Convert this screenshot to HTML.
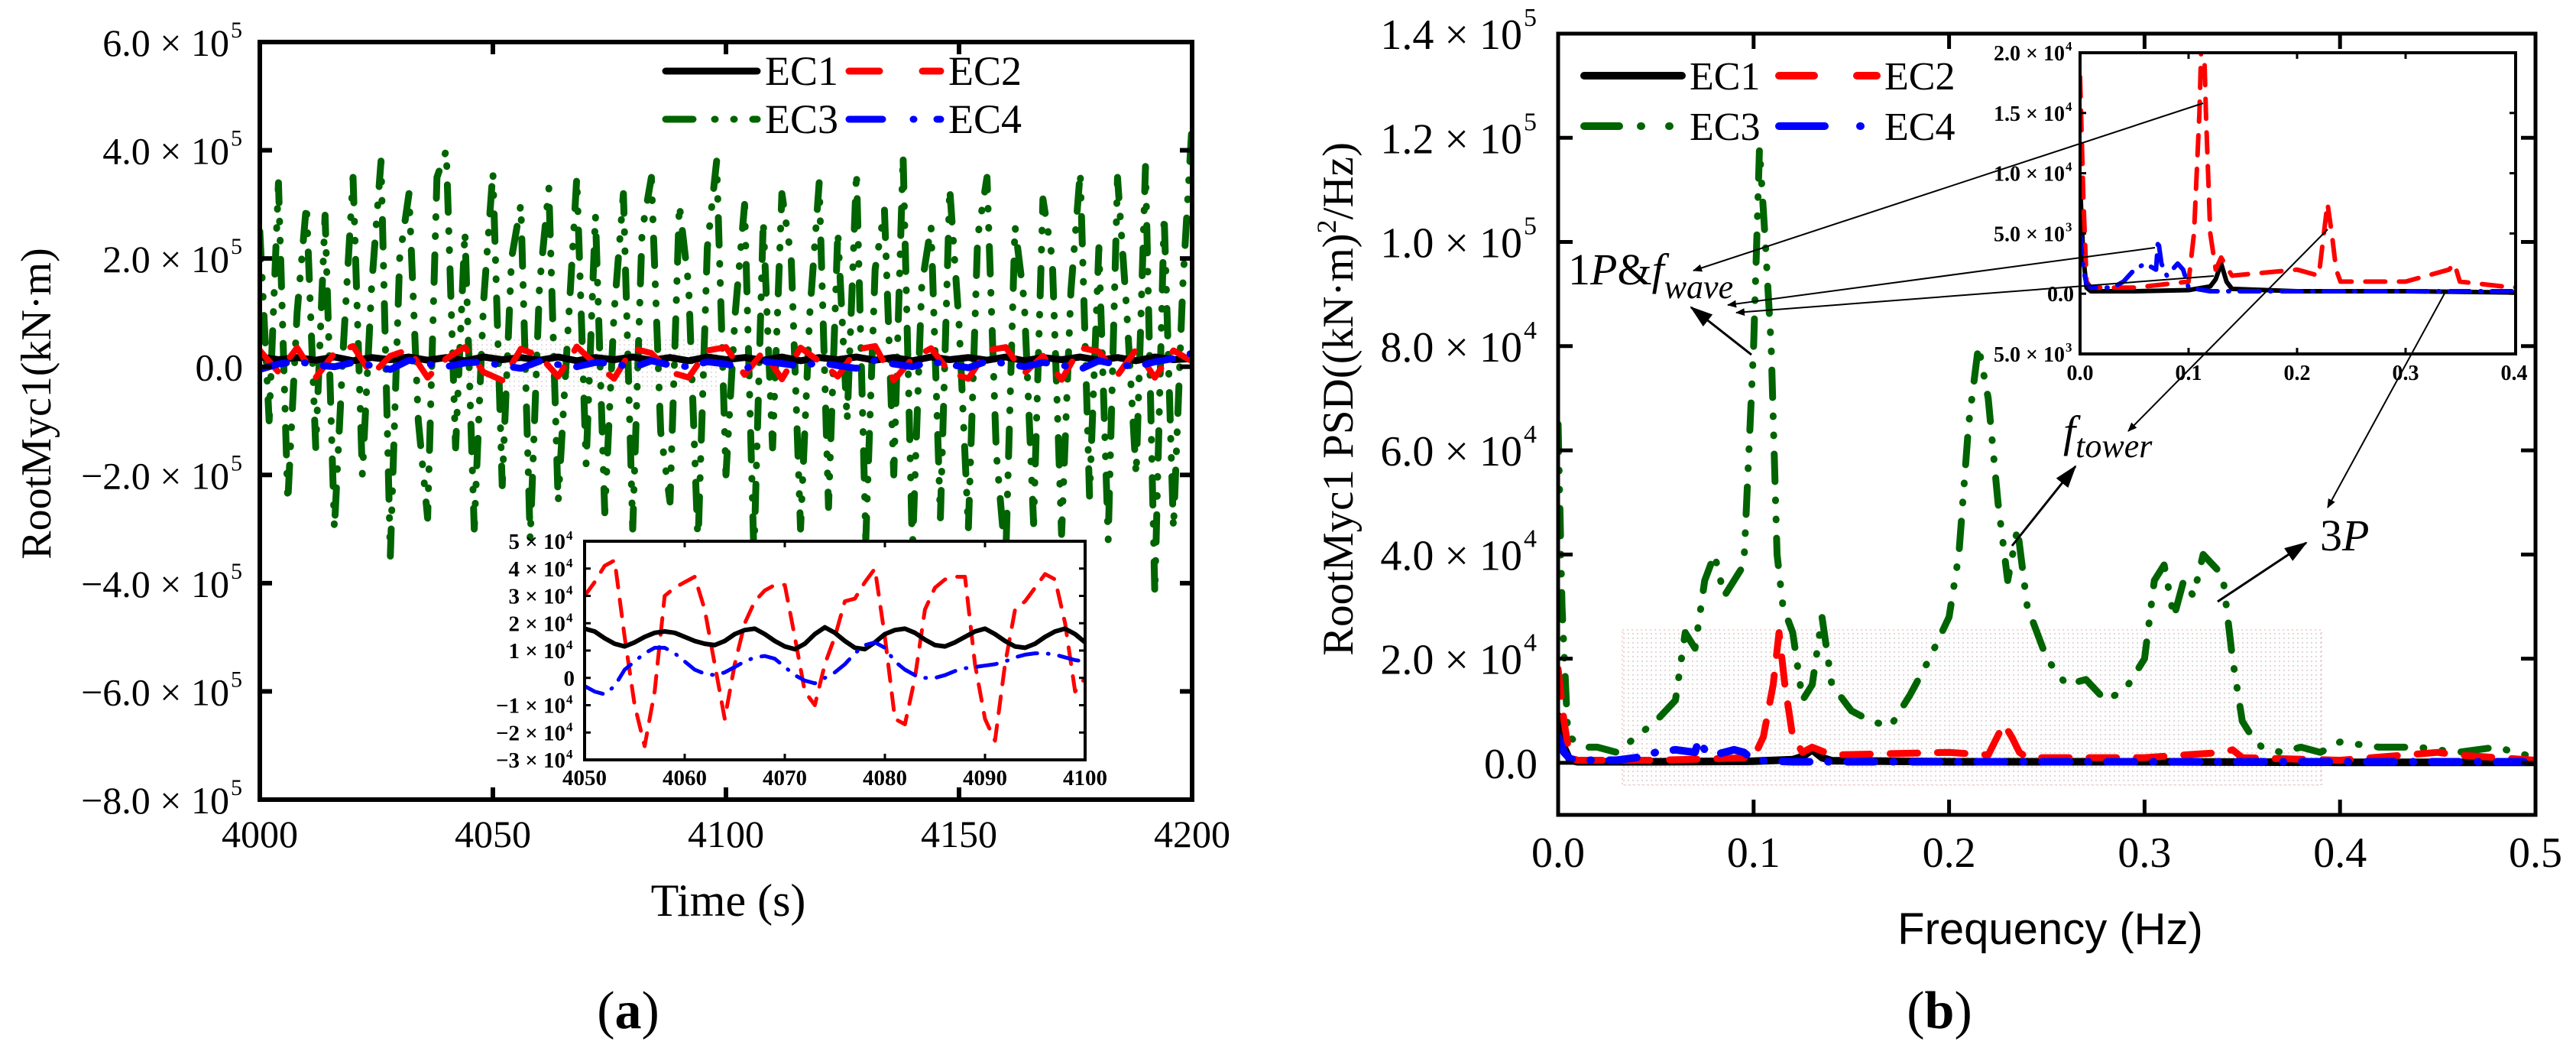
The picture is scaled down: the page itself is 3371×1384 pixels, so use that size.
<!DOCTYPE html>
<html><head><meta charset="utf-8"><style>
html,body{margin:0;padding:0;background:#fff;}
svg{display:block;}
text{font-family:"Liberation Serif","DejaVu Serif",serif;fill:#000;}
.sans{font-family:"Liberation Sans","DejaVu Sans",sans-serif;}
</style></head><body>
<svg id="fig" xmlns="http://www.w3.org/2000/svg" width="3371" height="1384" viewBox="0 0 3371 1384">
<defs>
<clipPath id="clipA"><rect x="340" y="55" width="1220" height="991"/></clipPath>
<clipPath id="clipAi"><rect x="765" y="708" width="655" height="286"/></clipPath>
<clipPath id="clipB"><rect x="2039" y="44" width="1279" height="1023"/></clipPath>
<clipPath id="clipBi"><rect x="2722" y="69" width="570" height="394"/></clipPath>
<pattern id="dots" width="6" height="6" patternUnits="userSpaceOnUse"><rect width="2" height="2" fill="#d8c8c8"/></pattern>
<marker id="ah" markerWidth="12" markerHeight="10" refX="11" refY="5" orient="auto" markerUnits="userSpaceOnUse"><path d="M0,0 L12,5 L0,10 z" fill="#000"/></marker>
<marker id="ahs" markerWidth="30" markerHeight="20" refX="28" refY="10" orient="auto" markerUnits="userSpaceOnUse"><path d="M0,0 L30,10 L0,20 z" fill="#000"/></marker>
</defs>
<g id="layer"></g>
</svg>
<script>
// ---------- data: panel (a) main, times 4000..4200 ----------
const mainStart = 4000, mainStep3 = 2, mainStep = 4;
const ec3Main = [2.5,-1,3.4,-2.5,1,3,-1.5,2.8,-3,0.5,3.5,-2,1.5,3.8,-3.5,2,3.2,-1,-2.8,3.5,4,-1.5,2.5,-3,1.2,3.6,-2.2,2,3,-3.2,1.5,3.3,-2.5,0.5,3.5,-1.8,2.8,-2.7,1,3.2,-3,2.5,3.5,-1.2,-2.5,3,1.5,-3.3,2.2,3.8,-2,1,3,-3.5,2.7,-1.5,3.2,2,-3,1,3.4,-2.6,2.5,-1,3.6,-3.2,1.8,2.9,-2,3.9,-3.4,1.5,2.6,-2.8,3.3,0.8,-3,2.4,3.5,-1.6,-3.6,2.6,1.2,-2.9,3.1,2,-3.1,1.4,3.6,-2.4,2.2,-3.2,3.5,1,-2,3.7,-4.2,2.8,-3,1.5,4.5]; // x1e5
const ec1Main = [1.8,1.3,1.7,1.2,1.8,1.1,1.7,1.3,1.8,1.2,1.7,1.1,1.8,1.3,1.7,1.2,1.8,1.1,1.7,1.3,1.8,1.2,1.7,1.1,1.8,1.3,1.7,1.2,1.8,1.1,1.7,1.3,1.8,1.2,1.7,1.1,1.8,1.3,1.7,1.2,1.8,1.1,1.7,1.3,1.8,1.2,1.7,1.1,1.8,1.3,1.5]; // x1e4
const ec2Main = [3,-1,3.5,-2,2.5,3.8,-1.5,2,3.2,-2,1.5,3.6,-1,-2.5,3.3,2,-1.8,3.7,0.5,-2.2,3.4,2.5,-1,-2,3,3.6,-1.5,2.8,-2.3,3.5,1,-1.8,3.2,3.8,-2.5,1.5,3.4,-1,-2.2,3,3.6,-1.2,2,-2.4,3.5,2.8,-1.6,3.2,-2,3,1]; // x1e4
const ec4Main = [-0.5,0.5,1,0.3,0,0.8,0.2,-0.5,1.2,0.5,0,0.7,0.9,0.2,-0.3,1,0.4,0,0.8,0.6,-0.2,1.1,0.3,0,0.9,0.5,-0.4,1,0.6,0.1,0.8,0.2,-0.3,1.2,0.5,0,0.9,0.4,-0.2,1,0.6,0,0.8,0.3,-0.5,1.1,0.4,0,0.9,1.5,2.5]; // x1e4
// ---------- panel (a) inset, times 4050..4100 step 1 ----------
const insStart = 4050, insStep = 1;
const ec1Ins = [1.8,1.7,1.45,1.25,1.15,1.3,1.5,1.65,1.7,1.65,1.5,1.35,1.25,1.2,1.35,1.6,1.75,1.8,1.6,1.35,1.15,1.05,1.25,1.6,1.85,1.65,1.35,1.1,1.05,1.3,1.6,1.75,1.8,1.65,1.4,1.2,1.15,1.3,1.5,1.7,1.8,1.6,1.35,1.15,1.1,1.25,1.5,1.7,1.8,1.6,1.3];
const ec2Ins = [3,3.5,4.1,4.3,1.5,-1,-2.5,-0.5,3,3.3,3.5,3.7,2.5,0.5,-1.5,0.5,2,2.8,3.2,3.4,3.4,1.5,-0.5,-1,0.5,1.5,2.8,2.9,3.5,4,1.5,-1.5,-1.7,0,2.5,3.3,3.6,3.7,3.7,0.5,-1.5,-2.3,0.5,2.5,2.8,3.3,3.8,3.6,2,-0.5,0];
const ec4Ins = [-0.3,-0.5,-0.6,-0.3,0.3,0.6,0.9,1.1,1.1,0.9,0.6,0.3,0.15,0.1,0.2,0.4,0.6,0.75,0.8,0.7,0.4,0.1,-0.1,-0.2,0,0.2,0.5,0.9,1.2,1.3,1.1,0.6,0.3,0.1,0,0,0.1,0.25,0.35,0.4,0.45,0.5,0.6,0.75,0.85,0.9,0.9,0.85,0.75,0.65,0.6];
// ---------- panel (b) PSD (x1e4) ----------
const f3 = [0,0.002,0.005,0.01,0.015,0.02,0.03,0.04,0.05,0.06,0.065,0.07,0.075,0.08,0.085,0.09,0.095,0.1,0.103,0.106,0.109,0.112,0.115,0.12,0.125,0.13,0.135,0.14,0.15,0.16,0.17,0.18,0.19,0.2,0.205,0.21,0.215,0.22,0.225,0.23,0.235,0.24,0.25,0.26,0.27,0.28,0.29,0.3,0.305,0.31,0.315,0.32,0.325,0.33,0.335,0.34,0.345,0.35,0.355,0.36,0.37,0.38,0.39,0.4,0.42,0.44,0.46,0.48,0.5];
const v3 = [6.5,3,0.5,0.4,0.3,0.3,0.2,0.5,0.8,1.2,2.5,2.2,3.5,4,3.2,3.5,3.8,8,11.8,10,8,4,3,2.5,1.2,1.5,2.8,1.5,1,0.8,0.7,1.3,2,2.8,4,6.5,8,7,5,3.5,4.5,3,2,1.5,1.6,1.2,1.4,2,3.5,3.8,2.8,3.5,3.2,4,3.8,3.6,2,0.8,0.5,0.3,0.2,0.3,0.2,0.4,0.3,0.3,0.2,0.3,0.1];
const f1 = [0,0.003,0.006,0.01,0.05,0.1,0.12,0.125,0.13,0.135,0.14,0.2,0.3,0.4,0.5];
const v1 = [0.9,0.3,0.05,0.02,0.02,0.03,0.06,0.12,0.25,0.1,0.04,0.02,0.02,0.01,0.01];
const f2 = [0,0.003,0.006,0.01,0.05,0.1,0.105,0.11,0.113,0.116,0.12,0.125,0.13,0.14,0.2,0.22,0.228,0.232,0.236,0.24,0.3,0.34,0.345,0.35,0.4,0.45,0.46,0.5];
const v2 = [1.8,0.8,0.1,0.05,0.05,0.1,0.5,1.5,2.5,1.5,0.5,0.2,0.3,0.15,0.2,0.15,0.75,0.5,0.2,0.1,0.1,0.2,0.25,0.1,0.05,0.2,0.15,0.05];
const f4 = [0,0.003,0.006,0.01,0.03,0.04,0.05,0.06,0.07,0.072,0.075,0.08,0.085,0.09,0.095,0.1,0.12,0.2,0.3,0.4,0.5];
const v4 = [0.5,0.2,0.08,0.05,0.05,0.1,0.2,0.25,0.2,0.45,0.25,0.15,0.2,0.25,0.2,0.05,0.02,0.02,0.02,0.02,0.02];
// tick labels
const aYTicks = [6,4,2,0,-2,-4,-6,-8];
const aXTicks = [4000,4050,4100,4150,4200];
const aiYTicks = [5,4,3,2,1,0,-1,-2,-3];
const aiXTicks = [4050,4060,4070,4080,4090,4100];
const bYTicks = [14,12,10,8,6,4,2,0];
const bXTicks = [0,0.1,0.2,0.3,0.4,0.5];
const biYTicks = [20,15,10,5,0,-5];
const biXTicks = [0,0.1,0.2,0.3,0.4];

const NS = "http://www.w3.org/2000/svg";
const layer = document.getElementById('layer');
function mk(tag, attrs, parent){ const e=document.createElementNS(NS,tag); for(const k in attrs) e.setAttribute(k,attrs[k]); (parent||layer).appendChild(e); return e; }
function lin(d0,d1,r0,r1){ return v => r0 + (v-d0)*(r1-r0)/(d1-d0); }

const ax = lin(4000,4200,340,1560), ay = lin(6e5,-8e5,55,1046);
const aix = lin(4050,4100,765,1420), aiy = lin(5e4,-3e4,708,994);
const bx = lin(0,0.5,2039,3318), by = lin(1.4e5,-1e4,44,1066);
const bix = lin(0,0.4,2722,3290), biy = lin(2e4,-5e3,69,463);

const styles = {
  ec1:{stroke:'#000', dash:'none'},
  ec2:{stroke:'#ff0000', dash:'36 26'},
  ec3:{stroke:'#006400', dash:'36 24 1 24 1 24'},
  ec4:{stroke:'#0000ff', dash:'36 24 1 24'}
};
function series(xs, ys, sx, sy, st, w, clip, g){
  let d='';
  for(let i=0;i<Math.min(xs.length,ys.length);i++){ d += (i?'L':'M')+sx(xs[i]).toFixed(1)+','+sy(ys[i]).toFixed(1); }
  return mk('path',{d:d,fill:'none',stroke:st.stroke,'stroke-width':w,'stroke-dasharray':st.dash,'stroke-linecap':'round','stroke-linejoin':'round','clip-path':'url(#'+clip+')'},g);
}
function times(start, step, n){ const t=[]; for(let i=0;i<n;i++) t.push(start+i*step); return t; }
function scaleArr(a,k){ return a.map(v=>v*k); }
function txt(x,y,s,size,anchor,extra,g){ const e=mk('text',Object.assign({x:x,y:y,'font-size':size,'text-anchor':anchor||'start'},extra||{}),g); e.innerHTML=s; return e; }

// ================= PANEL (a) =================
const gA = mk('g',{});


const hlA = mk('rect',{x:610,y:441,width:332,height:70,fill:'url(#dots)',opacity:0.6},gA);


let p;
p = series(times(mainStart,mainStep3,ec3Main.length), scaleArr(ec3Main,1e5), ax, ay, styles.ec3, 9, 'clipA', gA);


p = series(times(mainStart,mainStep,ec1Main.length), scaleArr(ec1Main,1e4), ax, ay, styles.ec1, 9, 'clipA', gA);


p = series(times(mainStart,mainStep,ec2Main.length), scaleArr(ec2Main,1e4), ax, ay, styles.ec2, 8, 'clipA', gA);


p = series(times(mainStart,mainStep,ec4Main.length), scaleArr(ec4Main,1e4), ax, ay, styles.ec4, 9, 'clipA', gA);



const frA = mk('rect',{x:340,y:55,width:1220,height:991,fill:'none',stroke:'#000','stroke-width':6},gA);


aYTicks.forEach(v=>{
  const y=ay(v*1e5);
  const t1=mk('line',{x1:340,x2:356,y1:y,y2:y,stroke:'#000','stroke-width':6},gA);
  
  
  mk('line',{x1:1560,x2:1544,y1:y,y2:y,stroke:'#000','stroke-width':6},gA);
  if(v===0){
    const lab0 = txt(318,y+18,'0.0',50,'end',{},gA);
    
    
  } else {
    const lab = txt(300,y+18,(v<0?'\u2212':'')+Math.abs(v).toFixed(1)+' \u00d7 10',50,'end',{},gA);
    
    
    const sup = txt(302,y-6,'5',30,'start',{},gA);
    
    
  }
});
aXTicks.forEach(v=>{
  const x=ax(v);
  mk('line',{x1:x,x2:x,y1:1046,y2:1030,stroke:'#000','stroke-width':6},gA);
  mk('line',{x1:x,x2:x,y1:55,y2:71,stroke:'#000','stroke-width':6},gA);
  const lab = txt(x,1108,String(v),50,'middle',{},gA);
  
  
});
let t;
t = txt(953,1198,'Time (s)',60,'middle',{},gA);


t = txt(0,0,'RootMyc1(kN·m)',56,'middle',{transform:'translate(66,528) rotate(-90)'},gA);


t = txt(822,1345,'(<tspan font-weight="bold">a</tspan>)',70,'middle',{},gA);



const legA = mk('g',{},gA);


[['ec1','EC1',871,93],['ec2','EC2',1111,93],['ec3','EC3',871,156],['ec4','EC4',1111,156]].forEach(r=>{
  const st=styles[r[0]];
  const ln = mk('line',{x1:r[2],x2:r[2]+120,y1:r[3],y2:r[3],stroke:st.stroke,'stroke-width':9,'stroke-dasharray':st.dash==='none'?'none':(r[0]==='ec2'?'40 56':(r[0]==='ec3'?'36 28 1 24 1 24':'44 40 1 30')),'stroke-linecap':'round'},legA);
  
  
  const tt = txt(r[2]+130,r[3]+18,r[1],54,'start',{},legA);
  
  
});

const gAi = mk('g',{},gA);


mk('rect',{x:765,y:708,width:655,height:286,fill:'#fff'},gAi);
p = series(times(insStart,insStep,ec2Ins.length), scaleArr(ec2Ins,1e4), aix, aiy, {stroke:'#ff0000',dash:'22 16'}, 5, 'clipAi', gAi);


p = series(times(insStart,insStep,ec1Ins.length), scaleArr(ec1Ins,1e4), aix, aiy, styles.ec1, 6, 'clipAi', gAi);


p = series(times(insStart,insStep,ec4Ins.length), scaleArr(ec4Ins,1e4), aix, aiy, {stroke:'#0000ff',dash:'26 14 1 14'}, 5, 'clipAi', gAi);


mk('rect',{x:765,y:708,width:655,height:286,fill:'none',stroke:'#000','stroke-width':4},gAi);
aiYTicks.forEach(v=>{
  const y=aiy(v*1e4);
  mk('line',{x1:765,x2:773,y1:y,y2:y,stroke:'#000','stroke-width':3},gAi);
  mk('line',{x1:1420,x2:1412,y1:y,y2:y,stroke:'#000','stroke-width':3},gAi);
  let s = v===0 ? '0' : ((v<0?'\u2212':'')+Math.abs(v)+' \u00d7 10');
  const lab = txt(v===0?752:740,y+10,s,29,'end',{'font-weight':'bold'},gAi);
  
  
  if(v!==0){ const sp=txt(741,y-2,'4',17,'start',{'font-weight':'bold'},gAi);
    
     }
});
aiXTicks.forEach(v=>{
  const x=aix(v);
  mk('line',{x1:x,x2:x,y1:994,y2:986,stroke:'#000','stroke-width':3},gAi);
  mk('line',{x1:x,x2:x,y1:708,y2:716,stroke:'#000','stroke-width':3},gAi);
  const lab = txt(x,1027,String(v),29,'middle',{'font-weight':'bold'},gAi);
  
  
});

// ================= PANEL (b) =================
const gB = mk('g',{});


const hlB = mk('rect',{x:2123,y:824,width:915,height:203,fill:'url(#dots)',stroke:'#f08080','stroke-width':1,'stroke-dasharray':'2 4',opacity:0.7},gB);


p = series(f3, scaleArr(v3,1e4), bx, by, styles.ec3, 9, 'clipB', gB);


p = series(f1, scaleArr(v1,1e4), bx, by, styles.ec1, 10, 'clipB', gB);


p = series(f2, scaleArr(v2,1e4), bx, by, styles.ec2, 9, 'clipB', gB);


p = series(f4, scaleArr(v4,1e4), bx, by, styles.ec4, 10, 'clipB', gB);



const frB = mk('rect',{x:2039,y:44,width:1279,height:1022,fill:'none',stroke:'#000','stroke-width':5},gB);


bYTicks.forEach(v=>{
  const y=by(v*1e4);
  mk('line',{x1:2039,x2:2058,y1:y,y2:y,stroke:'#000','stroke-width':5},gB);
  mk('line',{x1:3318,x2:3299,y1:y,y2:y,stroke:'#000','stroke-width':5},gB);
  let s, e;
  if(v===0){ s='0.0'; e=null; } else if(v>=10){ s=(v/10).toFixed(1)+' \u00d7 10'; e='5'; } else { s=v.toFixed(1)+' \u00d7 10'; e='4'; }
  const lab = txt(v===0?2012:1992,y+20,s,56,'end',{},gB);
  
  
  if(e){ const sp=txt(1994,y-10,e,34,'start',{},gB);
    
     }
});
bXTicks.forEach(v=>{
  const x=bx(v);
  if(v>0 && v<0.5){
    mk('line',{x1:x,x2:x,y1:1066,y2:1046,stroke:'#000','stroke-width':5},gB);
    mk('line',{x1:x,x2:x,y1:44,y2:64,stroke:'#000','stroke-width':5},gB);
  }
  const lab = txt(x,1134,v.toFixed(1),56,'middle',{},gB);
  
  
});
t = txt(2683,1235,'Frequency (Hz)',58,'middle',{class:'sans'},gB);


t = txt(0,0,'RootMyc1 PSD((kN·m)<tspan dy="-22" font-size="36">2</tspan><tspan dy="22">/Hz)</tspan>',57,'middle',{transform:'translate(1770,522) rotate(-90)'},gB);


t = txt(2538,1345,'(<tspan font-weight="bold">b</tspan>)',70,'middle',{},gB);



const legB = mk('g',{},gB);


[['ec1','EC1',2073,99],['ec2','EC2',2328,99],['ec3','EC3',2073,165],['ec4','EC4',2328,165]].forEach(r=>{
  const st=styles[r[0]];
  const dash = r[0]==='ec1'?'none':(r[0]==='ec2'?'46 56':(r[0]==='ec3'?'46 28 1 36 1 40':'60 46 1 30'));
  const ln = mk('line',{x1:r[2],x2:r[2]+128,y1:r[3],y2:r[3],stroke:st.stroke,'stroke-width':10,'stroke-dasharray':dash,'stroke-linecap':'round'},legB);
  
  
  const tt = txt(r[2]+138,r[3]+18,r[1],52,'start',{},legB);
  
  
});

const gBi = mk('g',{},gB);


mk('rect',{x:2722,y:69,width:570,height:394,fill:'#fff'},gBi);
p = series(f1, scaleArr(v1,1e4), bix, biy, styles.ec1, 6, 'clipBi', gBi);


p = series(f2, scaleArr(v2,1e4), bix, biy, {stroke:'#ff0000',dash:'26 18'}, 6, 'clipBi', gBi);


p = series(f4, scaleArr(v4,1e4), bix, biy, {stroke:'#0000ff',dash:'26 14 1 14'}, 6, 'clipBi', gBi);


mk('rect',{x:2722,y:69,width:570,height:394,fill:'none',stroke:'#000','stroke-width':4},gBi);
biYTicks.forEach(v=>{
  const y=biy(v*1e3);
  mk('line',{x1:2722,x2:2730,y1:y,y2:y,stroke:'#000','stroke-width':3},gBi);
  mk('line',{x1:3292,x2:3284,y1:y,y2:y,stroke:'#000','stroke-width':3},gBi);
  let s, e;
  if(v===0){ s='0.0'; e=null; } else if(Math.abs(v)>=10){ s=(Math.abs(v)/10).toFixed(1)+' \u00d7 10'; e='4'; } else { s=Math.abs(v).toFixed(1)+' \u00d7 10'; e='3'; }
  const lab = txt(v===0?2714:2702,y+10,s,28,'end',{'font-weight':'bold'},gBi);
  
  
  if(e){ const sp=txt(2703,y-3,e,17,'start',{'font-weight':'bold'},gBi);
    
     }
});
biXTicks.forEach(v=>{
  const x=bix(v);
  if(v>0 && v<0.4){
    mk('line',{x1:x,x2:x,y1:463,y2:455,stroke:'#000','stroke-width':3},gBi);
    mk('line',{x1:x,x2:x,y1:69,y2:77,stroke:'#000','stroke-width':3},gBi);
  }
  const lab = txt(x,497,v.toFixed(1),28,'middle',{'font-weight':'bold'},gBi);
  
  
});

const ann = mk('g',{},gB);


[[2883,135,2216,354],[2820,324,2261,399],[2897,361,2272,409],[3046,300,2785,564],[3200,382,3046,664]].forEach(l=>{
  const e=mk('line',{x1:l[0],y1:l[1],x2:l[2],y2:l[3],stroke:'#000','stroke-width':2,'marker-end':'url(#ah)'},ann);
  
  
});
[[2292,464,2213,402],[2633,714,2716,610],[2902,787,3018,710]].forEach(l=>{
  const e=mk('line',{x1:l[0],y1:l[1],x2:l[2],y2:l[3],stroke:'#000','stroke-width':3,'marker-end':'url(#ahs)'},ann);
  
  
});
t = txt(2052,372,'1<tspan font-style="italic">P</tspan>&amp;<tspan font-style="italic">f</tspan><tspan font-style="italic" font-size="44" dy="18">wave</tspan>',58,'start',{},ann);


t = txt(2700,584,'<tspan font-style="italic">f</tspan><tspan font-style="italic" font-size="44" dy="14">tower</tspan>',58,'start',{},ann);


t = txt(3036,720,'3<tspan font-style="italic">P</tspan>',58,'start',{},ann);


</script>
</body></html>
